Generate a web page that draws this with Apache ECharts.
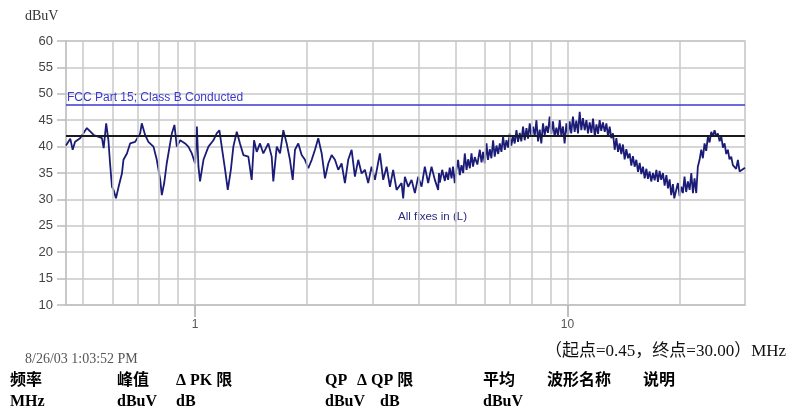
<!DOCTYPE html>
<html>
<head>
<meta charset="utf-8">
<script src="https://cdn.jsdelivr.net/npm/echarts@6/dist/echarts.min.js"></script>
<style>html,body{margin:0;padding:0;background:#fff}#c{width:790px;height:411px}</style>
</head>
<body>
<div id="c"></div>
<script>
var freqMHz = [
0.45,0.462,0.469,0.476,0.491,0.512,0.534,0.562,0.568,0.577,
0.585,0.591,0.598,0.604,0.613,0.623,0.636,0.642,0.656,0.669,
0.690,0.712,0.719,0.734,0.749,0.773,0.789,0.806,0.814,0.826,
0.839,0.857,0.866,0.880,0.893,0.912,0.940,0.959,0.980,1.000,
1.011,1.021,1.031,1.053,1.086,1.120,1.143,1.162,1.179,1.204,
1.224,1.247,1.267,1.294,1.320,1.348,1.390,1.419,1.440,1.464,
1.494,1.525,1.573,1.606,1.622,1.657,1.691,1.726,1.762,1.798,
1.829,1.855,1.893,1.933,1.973,2.014,2.057,2.099,2.142,2.188,
2.233,2.279,2.327,2.375,2.424,2.475,2.526,2.578,2.633,2.687,
2.743,2.801,2.858,2.917,2.979,3.041,3.136,3.201,3.269,3.337,
3.404,3.477,3.586,3.622,3.660,3.736,3.815,3.894,3.974,4.058,
4.141,4.227,4.316,4.406,4.497,4.52,4.544,4.61,4.687,4.73,
4.783,4.83,4.884,4.93,4.984,5.03,5.087,5.14,5.195,5.25,
5.302,5.36,5.412,5.47,5.526,5.58,5.640,5.73,5.818,5.88,
5.938,6.00,6.064,6.12,6.188,6.25,6.316,6.38,6.450,6.52,
6.583,6.65,6.719,6.79,6.861,6.93,7.002,7.07,7.147,7.22,
7.298,7.37,7.449,7.52,7.603,7.68,7.764,7.84,7.923,8.00,
8.087,8.17,8.258,8.34,8.426,8.51,8.601,8.69,8.783,8.87,
8.963,9.05,9.149,9.24,9.343,9.44,9.537,9.63,9.732,9.83,
9.940,10.04,10.14,10.24,10.35,10.46,10.57,10.68,10.79,10.90,
11.01,11.13,11.25,11.36,11.48,11.60,11.72,11.85,11.97,12.09,
12.21,12.33,12.46,12.60,12.73,12.86,12.99,13.12,13.26,13.40,
13.54,13.68,13.82,13.96,14.10,14.25,14.40,14.55,14.70,14.85,
15.00,15.16,15.32,15.48,15.64,15.80,15.96,16.13,16.30,16.46,
16.63,16.80,16.98,17.16,17.34,17.51,17.69,17.87,18.06,18.25,
18.45,18.63,18.82,19.01,19.21,19.37,19.53,19.67,19.81,20.02,
20.23,20.43,20.64,20.85,21.07,21.30,21.52,21.74,21.96,22.19,
22.41,22.65,22.89,23.12,23.36,23.60,23.85,24.10,24.35,24.60,
24.85,25.11,25.37,25.64,25.91,26.17,26.44,26.71,26.98,27.26,
27.55,27.83,28.12,28.41,28.71,29.01,29.31,30.0
];
var levelDbuv = [
40.2,41.5,39.4,40.9,41.6,43.5,42.2,41.6,39.7,44.4,
41.2,36.8,32.4,31.8,30.2,32.4,34.9,37.5,38.7,40.6,
40.9,42.5,44.4,42.2,40.9,40.0,37.5,33.7,30.8,33.1,
36.8,40.6,42.5,44.1,40.0,41.2,40.6,40.0,38.7,36.8,
43.8,36.2,33.4,37.5,40.0,41.2,42.5,43.1,40.0,35.6,
31.8,35.5,40.0,42.8,40.6,38.4,38.1,33.7,41.2,39.0,
40.6,38.7,40.6,38.1,33.4,40.0,38.7,43.1,40.6,37.5,
33.7,39.4,40.6,38.4,37.5,35.9,37.5,39.4,41.6,38.7,
34.0,36.8,38.4,37.5,35.6,36.8,33.1,37.5,39.4,34.3,
37.5,34.9,35.6,33.1,36.2,33.7,38.7,33.7,36.2,32.4,
35.6,31.8,33.1,30.2,34.3,32.4,33.7,31.2,34.3,32.4,
36.2,33.1,36.2,33.7,31.8,35.0,33.2,35.6,33.5,35.2,
33.7,36.0,34.0,36.2,33.1,35.5,37.5,34.6,36.5,35.0,
38.7,35.6,37.6,35.9,38.7,36.2,38.0,36.6,39.4,37.0,
39.0,36.8,40.6,37.5,39.5,37.8,41.2,38.1,40.2,38.6,
40.6,39.0,41.9,39.4,41.2,39.8,42.5,40.2,42.0,40.6,
43.1,40.9,42.6,41.0,43.8,41.2,43.5,41.5,44.4,41.9,
43.8,42.0,45.0,41.0,43.2,40.6,44.4,42.2,43.9,42.6,
45.7,42.4,44.8,41.9,43.6,42.0,45.0,42.1,43.8,40.6,
44.4,42.2,44.8,42.5,45.7,42.8,44.9,42.5,46.6,43.1,
45.4,43.1,45.0,42.5,44.6,42.6,45.3,41.9,44.2,42.4,
45.0,43.0,44.6,42.8,44.4,41.9,43.8,41.6,42.5,39.4,
41.6,39.0,40.6,38.6,40.4,37.6,39.5,37.8,38.7,36.4,
38.2,36.2,37.5,35.2,36.9,34.8,36.2,34.0,35.8,33.9,
35.3,33.4,35.0,33.6,35.6,33.3,35.4,33.7,35.0,32.6,
34.6,32.1,33.8,30.8,32.9,30.2,29.9,32.2,33.1,30.6,
32.4,31.2,34.3,31.4,33.4,31.8,35.0,31.2,34.0,31.2,
36.2,37.5,39.4,37.8,40.6,39.2,41.9,40.8,42.8,41.9,
43.1,42.0,42.5,41.0,41.9,39.8,40.6,38.6,39.4,37.6,
38.1,36.5,36.8,35.8,37.5,35.3,35.6,36.0
];
var xGridMHz = [0.5,0.6,0.7,0.8,0.9,1,2,3,4,5,6,7,8,9,10,20];
var xTickLabels = [1,10];
var limitFcc = 48;
var limitRef = 42;
var yMin = 10, yMax = 60, yStep = 5;

var trace = freqMHz.map(function(f,i){return [f, levelDbuv[i]];});
var chart = echarts.init(document.getElementById('c'), null, {renderer:'canvas'});
var serifCJK = '"Liberation Serif","Times New Roman","Noto Sans CJK SC",serif';
var boldCJK = '"Liberation Serif","Noto Sans CJK SC",serif';
var sans = '"Liberation Sans",Arial,sans-serif';
function tx(text, left, top, size, color, weight, fam){
  return {type:'text', left:left, top:top, style:{text:text, fontSize:size, fill:color, fontWeight:weight||'normal', fontFamily:fam||boldCJK}};
}
chart.setOption({
  animation:false,
  backgroundColor:'#fff',
  grid:{left:66, right:45, top:41, bottom:106, show:true, borderColor:'#c4c4c4', borderWidth:1.5},
  xAxis:{
    type:'log', logBase:10, min:0.45, max:30,
    axisLine:{show:true, lineStyle:{color:'#c4c4c4', width:1.5}},
    axisTick:{show:true, customValues:xTickLabels, length:12, lineStyle:{color:'#aaa', width:1.5}},
    axisLabel:{show:true, customValues:xTickLabels, margin:14, fontSize:12, color:'#555', fontFamily:sans},
    splitLine:{show:false}
  },
  yAxis:{
    type:'value', min:yMin, max:yMax, interval:yStep,
    axisLine:{show:true, lineStyle:{color:'#c4c4c4', width:1.5}},
    axisTick:{show:true, length:9, lineStyle:{color:'#bbb', width:1.5}},
    axisLabel:{fontSize:13, color:'#444', margin:13, fontFamily:sans},
    splitLine:{show:true, lineStyle:{color:'#c8c8c8', width:1.5}}
  },
  series:[
    {type:'line', data:[], silent:true, z:1,
      markLine:{silent:true, symbol:'none', label:{show:false},
        lineStyle:{color:'#c8c8c8', width:1.5, type:'solid'},
        data:xGridMHz.map(function(v){return {xAxis:v};})}},
    {type:'line', data:trace, showSymbol:false, symbol:'none', z:3,
      lineStyle:{color:'#1b1b78', width:1.8}, silent:true},
    {type:'line', data:[], silent:true, z:4,
      markLine:{silent:true, symbol:'none',
        data:[
          {yAxis:limitFcc, lineStyle:{color:'#3a3ad0', width:1.5, type:'solid'},
            label:{show:true, position:'insideStartTop', formatter:'FCC Part 15; Class B Conducted', color:'#3a3ad0', fontSize:12, distance:[1,1], fontFamily:sans}},
          {yAxis:limitRef, lineStyle:{color:'#1a1a1a', width:2, type:'solid'}, label:{show:false}}
        ]}}
  ],
  graphic:[
    tx('dBuV', 25, 9, 14, '#333', 'normal', serifCJK),
    tx('All fixes in (L)', 398, 211, 11.5, '#2a2a80', 'normal', sans),
    tx('8/26/03 1:03:52 PM', 25, 352, 14, '#555', 'normal', serifCJK),
    tx('（起点=0.45，终点=30.00）MHz', 545, 343, 17, '#111', 'normal', serifCJK),
    tx('频率', 10, 373, 16, '#000', 'bold'),
    tx('峰值', 117, 373, 16, '#000', 'bold'),
    tx('Δ PK 限', 176, 373, 16, '#000', 'bold'),
    tx('QP', 325, 373, 16, '#000', 'bold'),
    tx('Δ QP 限', 357, 373, 16, '#000', 'bold'),
    tx('平均', 483, 373, 16, '#000', 'bold'),
    tx('波形名称', 547, 373, 16, '#000', 'bold'),
    tx('说明', 643, 373, 16, '#000', 'bold'),
    tx('MHz', 10, 394, 16, '#000', 'bold'),
    tx('dBuV', 117, 394, 16, '#000', 'bold'),
    tx('dB', 176, 394, 16, '#000', 'bold'),
    tx('dBuV', 325, 394, 16, '#000', 'bold'),
    tx('dB', 380, 394, 16, '#000', 'bold'),
    tx('dBuV', 483, 394, 16, '#000', 'bold')
  ]
});
</script>
</body>
</html>
